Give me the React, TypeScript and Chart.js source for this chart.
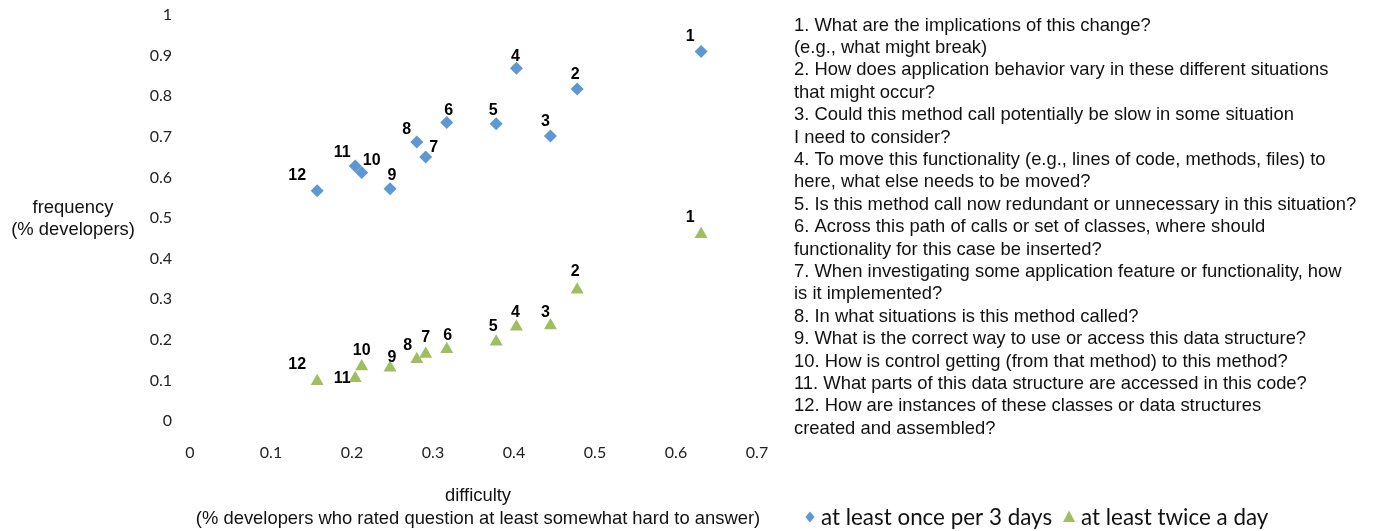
import React, { useEffect, useRef } from 'react';
import { Chart, registerables } from 'chart.js';

Chart.register(...registerables);

// ---------------- data ----------------
const questionIds = ['1', '2', '3', '4', '5', '6', '7', '8', '9', '10', '11', '12'];
const difficulty = [0.631, 0.478, 0.445, 0.403, 0.378, 0.317, 0.291, 0.28, 0.247, 0.212, 0.204, 0.157];
const freqOncePer3Days = [0.91, 0.818, 0.702, 0.869, 0.732, 0.735, 0.65, 0.687, 0.572, 0.612, 0.628, 0.567];
const freqTwiceADay = [0.46, 0.323, 0.235, 0.232, 0.195, 0.177, 0.165, 0.152, 0.131, 0.134, 0.105, 0.098];

const seriesNames = ['at least once per 3 days', 'at least twice a day'];

const xTickValues = [0, 0.1, 0.2, 0.3, 0.4, 0.5, 0.6, 0.7];
const xTickLabels = ['0', '0.1', '0.2', '0.3', '0.4', '0.5', '0.6', '0.7'];
const yTickValues = [0, 0.1, 0.2, 0.3, 0.4, 0.5, 0.6, 0.7, 0.8, 0.9, 1];
const yTickLabels = ['0', '0.1', '0.2', '0.3', '0.4', '0.5', '0.6', '0.7', '0.8', '0.9', '1'];

const xTitleLines = ['difficulty', '(% developers who rated question at least somewhat hard to answer)'];
const yTitleLines = ['frequency', '(% developers)'];

const questionLines = [
  '1. What are the implications of this change?',
  '(e.g., what might break)',
  '2. How does application behavior vary in these different situations',
  'that might occur?',
  '3. Could this method call potentially be slow in some situation',
  'I need to consider?',
  '4. To move this functionality (e.g., lines of code, methods, files) to',
  'here, what else needs to be moved?',
  '5. Is this method call now redundant or unnecessary in this situation?',
  '6. Across this path of calls or set of classes, where should',
  'functionality for this case be inserted?',
  '7. When investigating some application feature or functionality, how',
  'is it implemented?',
  '8. In what situations is this method called?',
  '9. What is the correct way to use or access this data structure?',
  '10. How is control getting (from that method) to this method?',
  '11. What parts of this data structure are accessed in this code?',
  '12. How are instances of these classes or data structures',
  'created and assembled?',
];

// ---------------- style ----------------
const BLUE = '#5E98D0';
const GREEN = '#9FBE60';
const SANS = '"Liberation Sans", Arial, Helvetica, sans-serif';
const TICK_FONT = 'Lato, "Open Sans", sans-serif';

// label nudges relative to each marker (pixels), per series
const labelNudges: number[][][] = [
  [[-11, -15], [-2, -14], [-5, -14], [-1, -12], [-3, -13], [2, -12], [8, -10], [-10, -12], [2, -13], [10, -12], [-13, -13], [-20, -15]],
  [[-11, -17], [-2, -18], [-5, -13], [-1, -14], [-3, -15], [1, -14], [0, -16], [-9, -14], [2, -10], [0, -16], [-13, 0], [-20, -17]],
];

const W = 1374;
const H = 531;
const PLOT_LEFT = 190;
const PLOT_RIGHT = 757;
const PLOT_TOP = 15;
const PLOT_BOTTOM = 421;

const overlayPlugin = {
  id: 'overlay',
  afterDatasetsDraw(chart: any) {
    const ctx = chart.ctx as CanvasRenderingContext2D;
    ctx.save();
    ctx.font = `bold 16px ${SANS}`;
    ctx.fillStyle = '#000';
    ctx.textAlign = 'center';
    ctx.textBaseline = 'middle';
    chart.data.datasets.forEach((_ds: any, di: number) => {
      const meta = chart.getDatasetMeta(di);
      meta.data.forEach((el: any, i: number) => {
        const [dx, dy] = labelNudges[di][i];
        ctx.fillText(questionIds[i], el.x + dx, el.y + dy);
      });
    });
    ctx.restore();
  },
  afterDraw(chart: any) {
    const ctx = chart.ctx as CanvasRenderingContext2D;
    const area = chart.chartArea;
    ctx.save();
    ctx.fillStyle = '#111';
    ctx.textBaseline = 'alphabetic';

    // y axis title (horizontal)
    ctx.font = `18.4px ${SANS}`;
    ctx.textAlign = 'center';
    yTitleLines.forEach((t, i) => ctx.fillText(t, 73, 213 + i * 22));

    // x axis title
    const xc = 478;
    xTitleLines.forEach((t, i) => ctx.fillText(t, xc, 500.5 + i * 23));

    // question list
    ctx.textAlign = 'left';
    const listX = area.right + 37;
    questionLines.forEach((t, i) => ctx.fillText(t, listX, 30.5 + i * 22.4));

    // legend
    const ly = 517;
    const lx = 810;
    ctx.fillStyle = BLUE;
    ctx.beginPath();
    ctx.moveTo(lx, ly - 5.5);
    ctx.lineTo(lx + 4.5, ly);
    ctx.lineTo(lx, ly + 5.5);
    ctx.lineTo(lx - 4.5, ly);
    ctx.closePath();
    ctx.fill();

    ctx.font = `22.4px ${TICK_FONT}`;
    ctx.fillStyle = '#111';
    ctx.textAlign = 'left';
    const t1x = lx + 11;
    ctx.fillText(seriesNames[0], t1x, ly + 7.5);
    const t1w = ctx.measureText(seriesNames[0]).width;
    const tx = t1x + t1w + 17;
    ctx.fillStyle = GREEN;
    ctx.beginPath();
    ctx.moveTo(tx, ly - 6.5);
    ctx.lineTo(tx + 6, ly + 5);
    ctx.lineTo(tx - 6, ly + 5);
    ctx.closePath();
    ctx.fill();
    ctx.fillStyle = '#111';
    ctx.fillText(seriesNames[1], tx + 12, ly + 7.5);

    ctx.restore();
  },
};

export default function App() {
  const canvasRef = useRef<HTMLCanvasElement | null>(null);

  useEffect(() => {
    const canvas = canvasRef.current;
    if (!canvas) return;
    const chart = new Chart(canvas, {
      type: 'scatter',
      data: {
        datasets: [
          {
            label: seriesNames[0],
            data: difficulty.map((x, i) => ({ x, y: freqOncePer3Days[i] })),
            pointStyle: 'rectRot',
            pointRadius: 6.5,
            pointHoverRadius: 6.5,
            backgroundColor: BLUE,
            borderColor: BLUE,
            borderWidth: 0,
          },
          {
            label: seriesNames[1],
            data: difficulty.map((x, i) => ({ x, y: freqTwiceADay[i] })),
            pointStyle: 'triangle',
            pointRadius: 7.5,
            pointHoverRadius: 7.5,
            backgroundColor: GREEN,
            borderColor: GREEN,
            borderWidth: 0,
          },
        ],
      },
      options: {
        animation: false,
        responsive: false,
        devicePixelRatio: 1,
        events: [],
        layout: { padding: { left: 0, right: W - PLOT_RIGHT, top: PLOT_TOP, bottom: 0 } },
        plugins: {
          legend: { display: false },
          tooltip: { enabled: false },
        },
        scales: {
          x: {
            type: 'linear',
            min: 0,
            max: 0.7,
            grid: { display: false, drawTicks: false },
            border: { display: false },
            afterBuildTicks: (s: any) => {
              s.ticks = xTickValues.map((v) => ({ value: v }));
            },
            afterFit: (s: any) => {
              s.height = H - PLOT_BOTTOM;
              s.paddingLeft = 0;
              s.paddingRight = 0;
            },
            ticks: {
              padding: 22,
              autoSkip: false,
              maxRotation: 0,
              color: '#222',
              font: { family: TICK_FONT, size: 16 },
              callback: (_v: any, i: number) => xTickLabels[i],
            },
          },
          y: {
            type: 'linear',
            min: 0,
            max: 1,
            grid: { display: false, drawTicks: false },
            border: { display: false },
            afterBuildTicks: (s: any) => {
              s.ticks = yTickValues.map((v) => ({ value: v }));
            },
            afterFit: (s: any) => {
              s.width = PLOT_LEFT;
              s.paddingTop = 0;
              s.paddingBottom = 0;
            },
            ticks: {
              padding: 18,
              autoSkip: false,
              color: '#222',
              font: { family: TICK_FONT, size: 16 },
              callback: (_v: any, i: number) => yTickLabels[i],
            },
          },
        },
      },
      plugins: [overlayPlugin],
    } as any);
    return () => chart.destroy();
  }, []);

  return (
    <div style={{ position: 'absolute', left: 0, top: 0, width: W, height: H, background: '#fff' }}>
      <canvas ref={canvasRef} width={W} height={H} style={{ display: 'block', width: W, height: H }} />
    </div>
  );
}
